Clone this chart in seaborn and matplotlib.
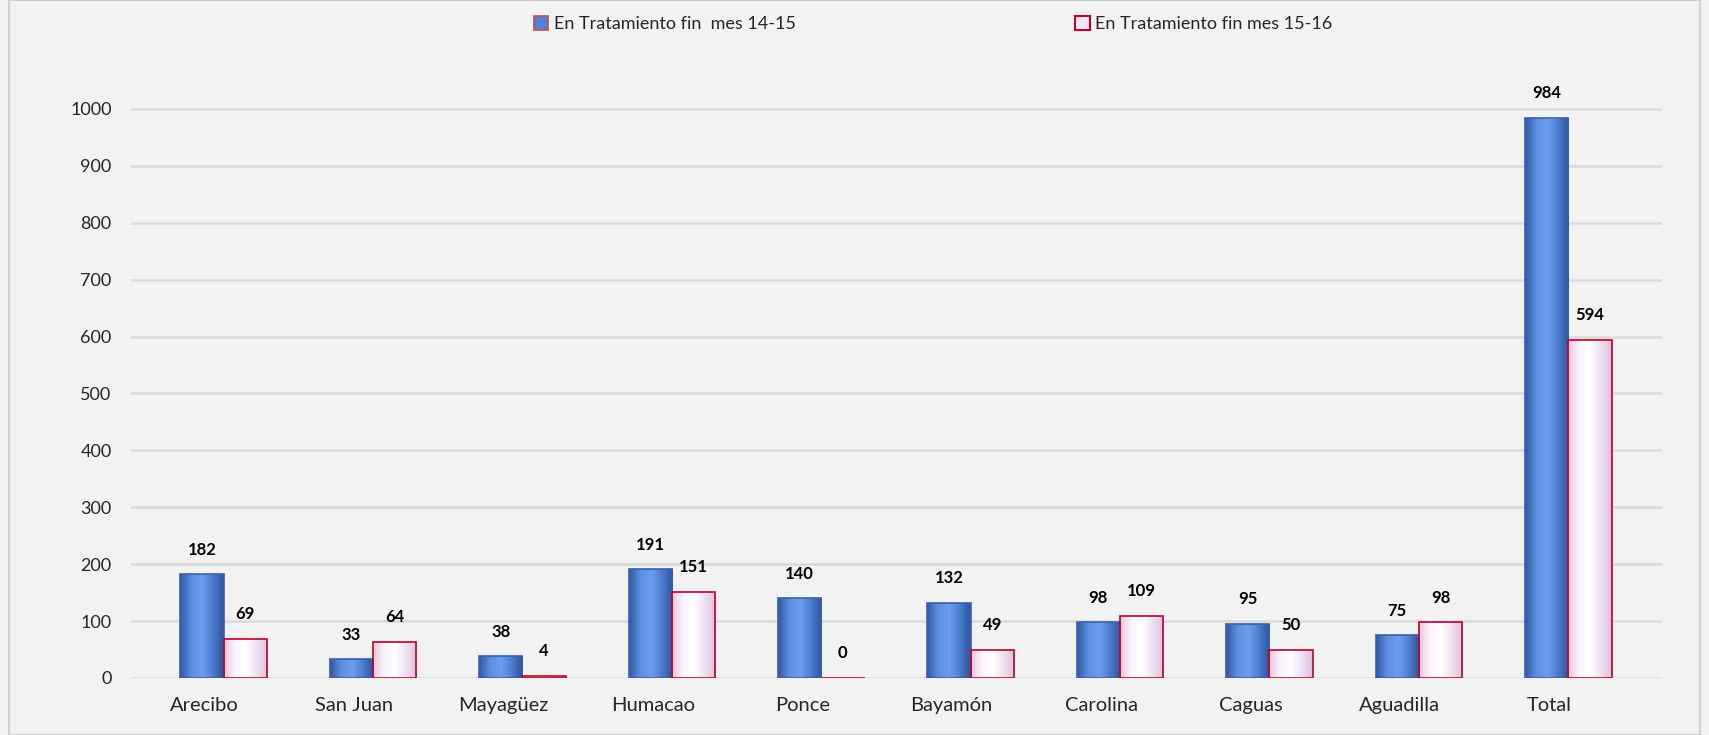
import matplotlib
matplotlib.use("Agg")
import matplotlib.pyplot as plt
import matplotlib.transforms as mtransforms
from matplotlib.colors import LinearSegmentedColormap
from matplotlib.patches import Patch, Rectangle
import numpy as np
import pandas as pd
import seaborn as sns

regiones = ["Arecibo", "San Juan", "Mayagüez", "Humacao", "Ponce",
            "Bayamón", "Carolina", "Caguas", "Aguadilla", "Total"]
mes_14_15 = [182, 33, 38, 191, 140, 132, 98, 95, 75, 984]
mes_15_16 = [69, 64, 4, 151, 0, 49, 109, 50, 98, 594]
serie_1 = "En Tratamiento fin  mes 14-15"
serie_2 = "En Tratamiento fin mes 15-16"
y_ticks = [0, 100, 200, 300, 400, 500, 600, 700, 800, 900, 1000]

df = pd.DataFrame({
    "region": regiones * 2,
    "valor": mes_14_15 + mes_15_16,
    "serie": [serie_1] * len(regiones) + [serie_2] * len(regiones),
})

sns.set_theme(style="white")
plt.rcParams["font.family"] = ["Lato", "DejaVu Sans"]

bg = "#f2f2f2"
azul = "#4f81d6"
rosa = "#f4e8f6"
rojo = "#c0002a"

fig = plt.figure(figsize=(17.09, 7.35), dpi=100, facecolor=bg)
ax = fig.add_axes([0.0767, 0.0776, 0.896, 0.813])
ax.set_facecolor(bg)

sns.barplot(data=df, x="region", y="valor", hue="serie",
            palette=[azul, rosa], width=0.58, gap=0,
            edgecolor=rojo, linewidth=1.2, legend=False, ax=ax)

# cylinder-like shading: gradient image clipped to each bar
cm_azul = LinearSegmentedColormap.from_list(
    "az", ["#34599f", "#5b8ee0", "#6d9ef0", "#4c7dd0", "#2f5296"])
cm_rosa = LinearSegmentedColormap.from_list(
    "ro", ["#e6c6dc", "#fbf4fb", "#ffffff", "#efe0f2", "#dcc0dc"])
grad = np.linspace(0, 1, 128).reshape(1, -1)
for cont, cmap, ec in [(ax.containers[0], cm_azul, "#3a5fa8"),
                       (ax.containers[1], cm_rosa, rojo)]:
    for bar in cont:
        h = bar.get_height()
        if h <= 0:
            continue
        x0 = bar.get_x()
        w = bar.get_width()
        im = ax.imshow(grad, cmap=cmap, aspect="auto",
                       extent=(x0, x0 + w, 0, h), zorder=bar.get_zorder())
        im.set_clip_path(bar)
        bar.set_facecolor("none")
        bar.set_edgecolor(ec)
        bar.set_zorder(bar.get_zorder() + 0.5)

for cont in ax.containers:
    ax.bar_label(cont, fmt="%d", padding=12, fontsize=12, fontweight="bold",
                 color="black")

ax.set_ylim(0, 1050)
ax.set_yticks(y_ticks)
ax.set_xlim(-0.62, len(regiones) - 0.37)
ax.yaxis.grid(True, color="#dadada", linewidth=1.8)
ax.set_axisbelow(True)
ax.set_xlabel("")
ax.set_ylabel("")
for s in ax.spines.values():
    s.set_visible(False)
ax.tick_params(axis="y", labelsize=13, pad=14, length=0)
ax.tick_params(axis="x", labelsize=14.5, pad=14, length=0)

# category labels sit a little left of the bars (perspective of the original)
shift = mtransforms.ScaledTranslation(-0.19, 0, fig.dpi_scale_trans)
for lbl in ax.get_xticklabels():
    lbl.set_transform(lbl.get_transform() + shift)

handles = [Patch(facecolor=azul, edgecolor="#c0504d", linewidth=1.2),
           Patch(facecolor=rosa, edgecolor=rojo, linewidth=1.5)]
fig.legend(handles, [serie_1, serie_2], loc="upper center",
           bbox_to_anchor=(0.546, 1.0), ncol=2, frameon=False,
           fontsize=13, columnspacing=15.5, handlelength=0.8,
           handleheight=0.8, handletextpad=0.3)

fig.add_artist(Rectangle((0.005, 0.0), 0.99, 1.0, transform=fig.transFigure,
                         fill=False, edgecolor="#d0d0d0", linewidth=1.5))

fig.savefig("out.png", dpi=100, facecolor=bg)
